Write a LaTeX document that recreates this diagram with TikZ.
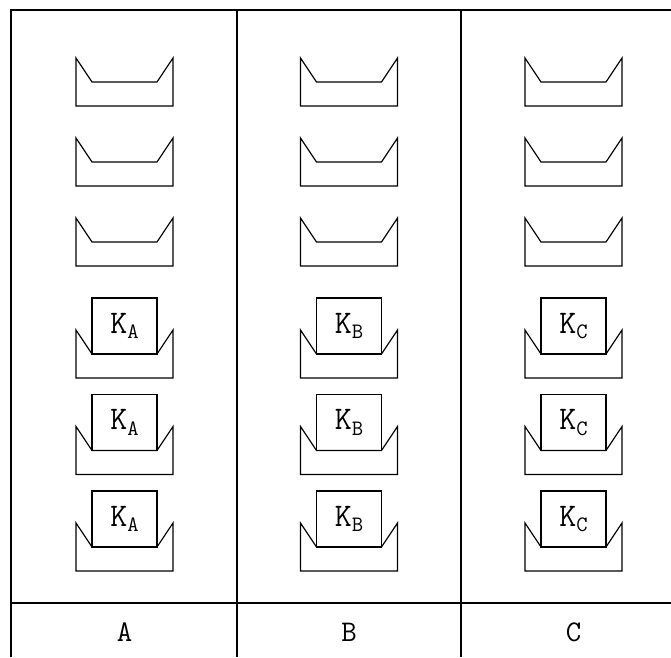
\documentclass[tikz,border=0pt]{standalone}
\usepackage{fontspec}
\usetikzlibrary{positioning}

\tikzset{
  frame/.style={line width=1.3pt},
  tray/.style={line width=1.2pt, line join=miter},
  keybox/.style={draw, line width=1.2pt, minimum width=65pt, minimum height=56pt, inner sep=0pt, font=\ttfamily\fontsize{33}{35}\selectfont},
  collabel/.style={font=\ttfamily\fontsize{30}{32}\selectfont}
}
\newcommand{\keytext}[1]{K\raisebox{-0.4ex}{\fontsize{22}{22}\selectfont #1}}

\begin{document}
\begin{tikzpicture}[x=1pt, y=-1pt]
  \useasboundingbox (0,0) rectangle (671,657);
  % frame and column rules
  \draw[frame] (11,657) -- (11,10) -- (671,10);
  \draw[frame] (237,10) -- (237,657);
  \draw[frame] (461,10) -- (461,657);
  \draw[frame] (11,603) -- (671,603);
  % three columns of trays
  \foreach \col/\cx in {A/124.5, B/349, C/573.5} {
    % empty trays
    \foreach \ty in {58,138,218}
      \draw[tray] (\cx-48.5,\ty) -- (\cx-48.5,\ty+48) -- (\cx+48.5,\ty+48) -- (\cx+48.5,\ty)
        -- (\cx+32.5,\ty+24) -- (\cx-32.5,\ty+24) -- cycle;
    % trays holding a key
    \foreach \row/\ty in {1/330, 2/426.5, 3/523} {
      \draw[tray] (\cx-48.5,\ty) -- (\cx-48.5,\ty+48) -- (\cx+48.5,\ty+48) -- (\cx+48.5,\ty)
        -- (\cx+32.5,\ty+24) -- (\cx-32.5,\ty+24) -- cycle;
      \node[keybox] (key\col\row) at (\cx,\ty-4) {\keytext{\col}};
    }
    \node[collabel] (label\col) at (\cx,632) {\col};
  }
\end{tikzpicture}
\end{document}
